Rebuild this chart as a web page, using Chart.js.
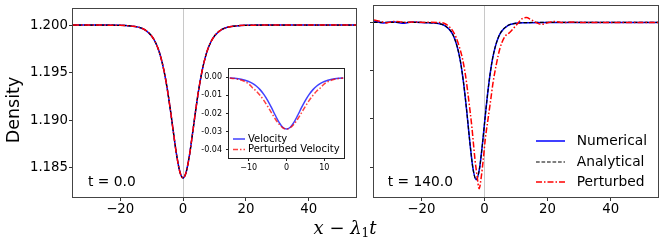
<!DOCTYPE html>
<html>
<head>
<meta charset="utf-8">
<script src="https://cdn.jsdelivr.net/npm/chart.js@4.4.0/dist/chart.umd.min.js"></script>
<style>
body { margin: 0; background: #fff; }
#wrap { position: relative; width: 664px; height: 244px; overflow: hidden; }
canvas { position: absolute; }
#xlabel { position: absolute; left: 245px; width: 200px; top: 217px; text-align: center;
          font-family: 'DejaVu Serif', serif; font-size: 18px; color: #000; white-space: nowrap; }
#xlabel i { font-style: italic; }
#xlabel sub { font-style: normal; font-size: 12px; vertical-align: -3px; }
</style>
</head>
<body>
<div id="wrap">
  <canvas id="chartLeft" width="366" height="244" style="left:0;top:0;width:366px;height:244px"></canvas>
  <canvas id="chartRight" width="304" height="244" style="left:360px;top:0;width:304px;height:244px"></canvas>
  <canvas id="chartInset" width="152" height="116" style="left:196px;top:60px;width:152px;height:116px"></canvas>
  <div id="xlabel"><i>x</i> − <i>λ</i><sub>1</sub><i>t</i></div>
</div>
<script>
var FONT = 'DejaVu Sans';

// t = 0.0 : numerical, analytical and perturbed coincide
var leftX = [-35, -25, -20, -18, -16, -14, -12, -10,
    -9, -8, -7, -6, -5, -4, -3, -2, -1, 0, 1, 2, 3, 4, 5, 6, 7, 8, 9,
    10, 12, 14, 16, 18, 20, 25, 35, 45, 55];
var leftDensity = [1.2, 1.2, 1.19998, 1.19995, 1.19989, 1.19976, 1.19948, 1.19886,
    1.19833, 1.19758, 1.19652, 1.19509, 1.19324, 1.19100, 1.18854, 1.18622, 1.18453, 1.18390,
    1.18453, 1.18622, 1.18854, 1.19100, 1.19324, 1.19509, 1.19652, 1.19758, 1.19833,
    1.19886, 1.19948, 1.19976, 1.19989, 1.19995, 1.19998, 1.2, 1.2, 1.2, 1.2];

// t = 140.0
var rightX = [-35, -32, -29, -26, -23, -20, -17.6, -14.6, -12.6, -10.6, -9.6, -8.6, -7.6,
    -6.6, -5.6, -4.6, -3.6, -2.6, -1.6, -0.6, 0.4, 1.4, 2.4, 3.4, 4.4, 5.4, 7.4, 9.4,
    12.4, 20, 30, 40, 55];
var rightNumerical = [1.20015, 1.19995, 1.20006, 1.1999, 1.20004, 1.19998, 1.19997, 1.19988,
    1.19967, 1.19906, 1.19844, 1.19744, 1.19594, 1.19368, 1.19076, 1.1875, 1.18478, 1.1837,
    1.18478, 1.1875, 1.19076, 1.19368, 1.19594, 1.19744, 1.19844, 1.19906, 1.19967, 1.19988,
    1.19997, 1.2, 1.2, 1.2, 1.2];
var rightAnalytical = [1.2, 1.2, 1.2, 1.2, 1.2, 1.2, 1.19997, 1.19988,
    1.19967, 1.19906, 1.19844, 1.19744, 1.19594, 1.19368, 1.19076, 1.1875, 1.18478, 1.1837,
    1.18478, 1.1875, 1.19076, 1.19368, 1.19594, 1.19744, 1.19844, 1.19906, 1.19967, 1.19988,
    1.19997, 1.2, 1.2, 1.2, 1.2];
var perturbedX = [-35, -33, -31, -29, -27, -25, -23, -21, -19, -17, -15, -13, -11.5, -10,
    -9, -8, -7, -6, -5, -4, -3, -2.3, -1.7, -1, -0.4, 0.3, 1.1, 2, 2.7, 3.8, 4.9, 6.4, 8,
    9.5, 10.7, 12, 13.3, 14.7, 16.5, 18, 20, 22, 25, 28, 31, 35, 55];
var rightPerturbed = [1.20025, 1.2001, 1.19995, 1.2001, 1.20008, 1.19998, 1.20005, 1.20003,
    1.2, 1.20002, 1.2, 1.19993, 1.19965, 1.1991, 1.19845, 1.1975, 1.1963, 1.1945, 1.192,
    1.1892, 1.1858, 1.184, 1.18276, 1.184, 1.1857, 1.188, 1.1899, 1.192, 1.1937, 1.1957,
    1.1973, 1.1985, 1.19895, 1.1995, 1.19995, 1.2004, 1.2005, 1.2003, 1.19997, 1.1998,
    1.19995, 1.2001, 1.19998, 1.20003, 1.19998, 1.2, 1.2];

// inset
var insetX = [-15, -14, -12, -10, -9, -8, -7, -6, -5, -4, -3, -2, -1, 0,
    1, 2, 3, 4, 5, 6, 7, 8, 9, 10, 12, 14, 15];
var velocity = [-0.00035, -0.00052, -0.00111, -0.00235, -0.00337, -0.00483, -0.00681,
    -0.00943, -0.01274, -0.01664, -0.02085, -0.02475, -0.02757, -0.0286,
    -0.02757, -0.02475, -0.02085, -0.01664, -0.01274, -0.00943, -0.00681, -0.00483,
    -0.00337, -0.00235, -0.00111, -0.00052, -0.00035];
var perturbedVelocity = [-0.0004, -0.0006, -0.0015, -0.0036, -0.00576, -0.00762, -0.00997,
    -0.01278, -0.01599, -0.01947, -0.02291, -0.02586, -0.02788, -0.0286,
    -0.02788, -0.02586, -0.02291, -0.01947, -0.01599, -0.01278, -0.00997, -0.00762,
    -0.00576, -0.0036, -0.0015, -0.0006, -0.0004];

var xTicks = [-20, 0, 20, 40];
var densityTicks = [1.185, 1.19, 1.195, 1.2];
var insetXTicks = [-10, 0, 10];
var insetYTicks = [0, -0.01, -0.02, -0.03, -0.04];

function toPoints(xs, ys) {
    return xs.map(function (x, i) { return { x: x, y: ys[i] }; });
}

function minusSign(v) {
    return v < 0 ? '\u2212' + Math.abs(v) : '' + v;
}

// frame around the plot area
var framePlugin = {
    id: 'frame',
    afterDraw: function (chart, args, opts) {
        var a = chart.chartArea, ctx = chart.ctx;
        ctx.save();
        ctx.strokeStyle = opts.color || '#444';
        ctx.lineWidth = 1;
        ctx.strokeRect(Math.round(a.left) - 0.5, Math.round(a.top) - 0.5,
            Math.round(a.right - a.left) + 1, Math.round(a.bottom - a.top) + 1);
        ctx.restore();
    }
};

var textPlugin = {
    id: 'texts',
    afterDraw: function (chart, args, opts) {
        if (!opts.items) return;
        var ctx = chart.ctx;
        opts.items.forEach(function (t) {
            ctx.save();
            ctx.font = t.font;
            ctx.fillStyle = '#000';
            ctx.textAlign = t.align || 'left';
            ctx.textBaseline = 'middle';
            ctx.translate(t.x, t.y);
            if (t.rotate) ctx.rotate(t.rotate);
            ctx.fillText(t.text, 0, 0);
            ctx.restore();
        });
    }
};

var keyLegend = {
    id: 'keyLegend',
    afterDraw: function (chart, args, opts) {
        if (!opts.rows) return;
        var ctx = chart.ctx;
        ctx.save();
        ctx.font = opts.font;
        ctx.textBaseline = 'middle';
        opts.rows.forEach(function (row) {
            var ds = chart.data.datasets[row.dataset];
            ctx.strokeStyle = ds.borderColor;
            ctx.lineWidth = ds.borderWidth;
            ctx.setLineDash(ds.borderDash || []);
            ctx.beginPath();
            ctx.moveTo(opts.x0, row.y);
            ctx.lineTo(opts.x1, row.y);
            ctx.stroke();
            ctx.setLineDash([]);
            ctx.fillStyle = '#000';
            ctx.fillText(ds.label, opts.tx, row.y);
        });
        ctx.restore();
    }
};

function lineSet(label, pts, color, width, dash, order) {
    return {
        label: label, data: pts, borderColor: color, borderWidth: width,
        borderDash: dash, pointRadius: 0, fill: false,
        cubicInterpolationMode: 'monotone', order: order
    };
}

function mainScales(yWidth, showYLabels) {
    return {
        x: {
            type: 'linear', min: -35, max: 55,
            afterBuildTicks: function (s) { s.ticks = xTicks.map(function (v) { return { value: v }; }); },
            afterFit: function (s) { s.height = 30; },
            border: { display: false },
            grid: {
                color: function (c) { return c.tick && c.tick.value === 0 ? '#c8c8c8' : 'rgba(0,0,0,0)'; },
                tickColor: '#333', tickLength: 4, lineWidth: 1
            },
            ticks: {
                font: { family: FONT, size: 13.3 }, color: '#000', padding: 1, maxRotation: 0,
                callback: function (v) { return minusSign(v); }
            }
        },
        y: {
            min: 1.1819, max: 1.2017,
            afterBuildTicks: function (s) { s.ticks = densityTicks.map(function (v) { return { value: v }; }); },
            afterFit: function (s) { s.width = yWidth; },
            border: { display: false },
            grid: { drawOnChartArea: false, tickColor: '#333', tickLength: 4 },
            ticks: {
                display: showYLabels,
                font: { family: FONT, size: 13.3 }, color: '#000', padding: 1,
                callback: function (v) { return v.toFixed(3); }
            }
        }
    };
}

var common = {
    responsive: false, animation: false, devicePixelRatio: 1,
    events: []
};

new Chart(document.getElementById('chartLeft'), {
    type: 'line',
    data: {
        datasets: [
            lineSet('Numerical', toPoints(leftX, leftDensity), '#0000ff', 1.5, [], 2),
            lineSet('Analytical', toPoints(leftX, leftDensity), '#000000', 1.2, [3.7, 1.8], 1),
            lineSet('Perturbed', toPoints(leftX, leftDensity), '#ff0000', 1.5, [6, 2, 1.5, 2], 0)
        ]
    },
    options: Object.assign({}, common, {
        layout: { padding: { left: 0, right: 10, top: 6, bottom: 17 }, autoPadding: false },
        scales: mainScales(73, true),
        plugins: {
            legend: { display: false }, tooltip: { enabled: false },
            frame: { color: '#444' },
            texts: {
                items: [
                    { text: 'Density', x: 14, y: 110, font: '17.5px ' + FONT, align: 'center', rotate: -Math.PI / 2 },
                    { text: 't = 0.0', x: 88, y: 182, font: '13.8px ' + FONT }
                ]
            }
        }
    }),
    plugins: [framePlugin, textPlugin, keyLegend]
});

new Chart(document.getElementById('chartRight'), {
    type: 'line',
    data: {
        datasets: [
            lineSet('Numerical', toPoints(rightX, rightNumerical), '#0000ff', 1.5, [], 2),
            lineSet('Analytical', toPoints(rightX, rightAnalytical), '#000000', 1.2, [3.7, 1.8], 1),
            lineSet('Perturbed', toPoints(perturbedX, rightPerturbed), '#ff0000', 1.5, [6, 2, 1.5, 2], 0)
        ]
    },
    options: Object.assign({}, common, {
        layout: { padding: { left: 0, right: 6, top: 6, bottom: 17 }, autoPadding: false },
        scales: mainScales(14, false),
        plugins: {
            legend: { display: false }, tooltip: { enabled: false },
            frame: { color: '#444' },
            texts: { items: [{ text: 't = 140.0', x: 27.7, y: 182, font: '13.8px ' + FONT }] },
            keyLegend: {
                font: '13.8px ' + FONT, x0: 176, x1: 205, tx: 216.7,
                rows: [{ dataset: 0, y: 141 }, { dataset: 1, y: 162 }, { dataset: 2, y: 182 }]
            }
        }
    }),
    plugins: [framePlugin, textPlugin, keyLegend]
});

new Chart(document.getElementById('chartInset'), {
    type: 'line',
    data: {
        datasets: [
            lineSet('Velocity', toPoints(insetX, velocity), 'rgba(0,0,255,0.75)', 1.5, [], 1),
            lineSet('Perturbed Velocity', toPoints(insetX, perturbedVelocity), 'rgba(255,0,0,0.75)', 1.5, [5, 2, 1.5, 2], 0)
        ]
    },
    options: Object.assign({}, common, {
        layout: { padding: { left: 0, right: 4, top: 3, bottom: 0 }, autoPadding: false },
        scales: {
            x: {
                type: 'linear', min: -15.2, max: 15.2,
                afterBuildTicks: function (s) { s.ticks = insetXTicks.map(function (v) { return { value: v }; }); },
                afterFit: function (s) { s.height = 18; },
                border: { display: false },
                grid: { drawOnChartArea: false, tickColor: '#222', tickLength: 3 },
                ticks: {
                    font: { family: FONT, size: 8 }, color: '#000', padding: 2, maxRotation: 0,
                    callback: function (v) { return minusSign(v); }
                }
            },
            y: {
                min: -0.0446, max: 0.0047,
                afterBuildTicks: function (s) { s.ticks = insetYTicks.map(function (v) { return { value: v }; }); },
                afterFit: function (s) { s.width = 33; },
                border: { display: false },
                grid: { drawOnChartArea: false, tickColor: '#222', tickLength: 3 },
                ticks: {
                    font: { family: FONT, size: 8 }, color: '#000', padding: 4,
                    callback: function (v) { return v.toFixed(2); }
                }
            }
        },
        plugins: {
            legend: { display: false }, tooltip: { enabled: false },
            frame: { color: '#222' },
            keyLegend: {
                font: '10px ' + FONT, x0: 37, x1: 49, tx: 52,
                rows: [{ dataset: 0, y: 79 }, { dataset: 1, y: 89.5 }]
            }
        }
    }),
    plugins: [framePlugin, textPlugin, keyLegend]
});
</script>
</body>
</html>
